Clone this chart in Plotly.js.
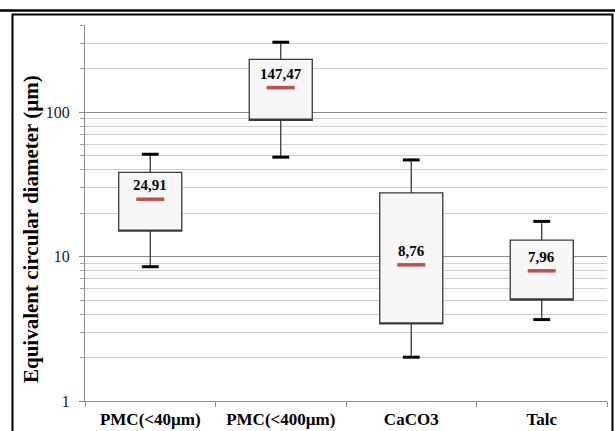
<!DOCTYPE html>
<html>
<head>
<meta charset="utf-8">
<script src="https://cdn.plot.ly/plotly-3.0.1.min.js"></script>
<style>
  html, body { margin: 0; padding: 0; background: #fff; }
  #chart { width: 615px; height: 431px; }
</style>
</head>
<body>
<div id="chart"></div>
<script>
// ---- data ----
const categories = ['PMC(<40µm)', 'PMC(<400µm)', 'CaCO3', 'Talc'];
const q1Values = [15.0, 87.7, 3.42, 5.0];
const q3Values = [38.2, 231, 27.6, 13.0];
const lowerWhisker = [8.5, 48.7, 2.01, 3.66];
const upperWhisker = [51, 304, 46.6, 17.5];
const medianValues = [24.91, 147.47, 8.76, 7.96];
const medianLabels = ['24,91', '147,47', '8,76', '7,96'];
const yTickVals = [1, 10, 100];
const yTickText = ['1', '10', '100'];
const yMinorVals = [2, 3, 4, 5, 6, 7, 8, 9, 20, 30, 40, 50, 60, 70, 80, 90, 200, 300, 400];
const yTitle = 'Equivalent circular diameter (µm)';

const serif = '"Liberation Serif", "Times New Roman", serif';

const boxTrace = {
  type: 'box',
  x: categories,
  q1: q1Values,
  median: q1Values,
  q3: q3Values,
  lowerfence: lowerWhisker,
  upperfence: upperWhisker,
  boxpoints: false,
  width: 0.483,
  whiskerwidth: 0,
  fillcolor: '#f7f7f7',
  line: { color: '#3a3a3a', width: 1.3 },
  hoverinfo: 'skip',
  showlegend: false
};

const capTrace = {
  type: 'scatter',
  mode: 'markers',
  x: categories.concat(categories),
  y: upperWhisker.concat(lowerWhisker),
  marker: { symbol: 'line-ew', size: 12, line: { color: '#000', width: 3 } },
  hoverinfo: 'skip',
  showlegend: false
};

const medianTrace = {
  type: 'scatter',
  mode: 'markers',
  x: categories,
  y: medianValues,
  marker: { symbol: 'line-ew', size: 20, line: { color: '#c0504d', width: 3.5 } },
  hoverinfo: 'skip',
  showlegend: false
};

// plot area in pixels: x 85..607, y 25..401
const L = 85, R = 8, T = 25, B = 30;
const W = 615 - L - R, H = 431 - T - B;
const px = v => (v - L) / W;
const py = v => (431 - B - v) / H;

const annotations = categories.map((c, i) => ({
  x: c, y: Math.log10(medianValues[i]), xref: 'x', yref: 'y',
  text: '<b>' + medianLabels[i] + '</b>', showarrow: false,
  yshift: 14, font: { family: serif, size: 15, color: '#000' }
}));
annotations.push({
  x: px(31), y: py(229), xref: 'paper', yref: 'paper',
  text: '<b>' + yTitle + '</b>', textangle: -90, showarrow: false,
  xanchor: 'center', yanchor: 'middle',
  font: { family: serif, size: 21, color: '#000' }
});

const layout = {
  width: 615, height: 431,
  margin: { l: L, r: R, t: T, b: B, pad: 0 },
  paper_bgcolor: '#fff', plot_bgcolor: '#fff',
  showlegend: false,
  xaxis: {
    type: 'category', range: [-0.5, 3.5],
    showline: true, linecolor: '#8c8c8c', linewidth: 1,
    ticks: 'outside', tickson: 'boundaries', ticklen: 5, tickcolor: '#8c8c8c',
    showgrid: false, zeroline: false,
    ticklabelstandoff: 3,
    tickfont: { family: serif, size: 17, color: '#000', weight: 'bold' }
  },
  yaxis: {
    type: 'log', range: [0, Math.log10(400)],
    tickvals: yTickVals, ticktext: yTickText,
    showline: true, linecolor: '#8c8c8c', linewidth: 1,
    ticks: 'outside', ticklen: 5, tickcolor: '#8c8c8c',
    showgrid: true, gridcolor: '#8c8c8c', gridwidth: 1,
    zeroline: false,
    tickfont: { family: serif, size: 16, color: '#222' },
    ticklabelstandoff: 6,
    minor: {
      tickvals: yMinorVals, showgrid: true, gridcolor: '#cfcfcf', gridwidth: 1,
      ticks: 'outside', ticklen: 4, tickcolor: '#a0a0a0'
    }
  },
  annotations: annotations,
  shapes: [
    { type: 'line', xref: 'paper', yref: 'paper', x0: px(0), x1: px(615), y0: py(10.5), y1: py(10.5),
      line: { color: '#000', width: 2.5 } },
    { type: 'rect', xref: 'paper', yref: 'paper', x0: px(12.5), x1: px(612.5), y0: py(440), y1: py(14.5),
      line: { color: '#000', width: 2 }, fillcolor: 'rgba(0,0,0,0)' }
  ]
};

Plotly.newPlot('chart', [boxTrace, capTrace, medianTrace], layout, { displayModeBar: false, staticPlot: true });
</script>
</body>
</html>
